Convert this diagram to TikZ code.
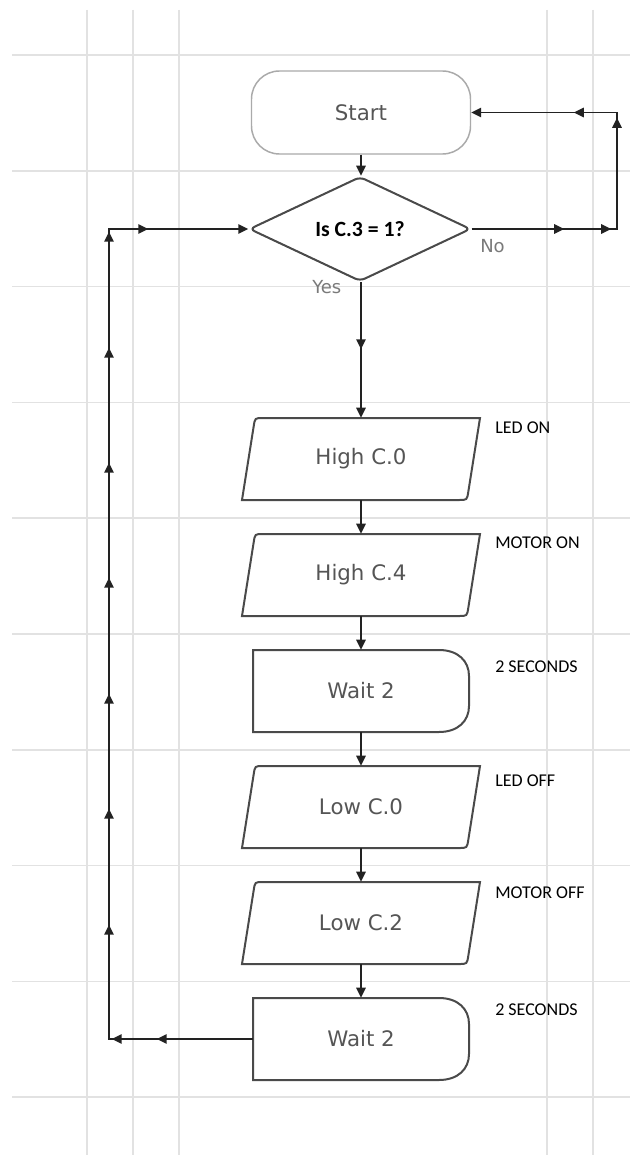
\documentclass[tikz,border=0pt]{standalone}
\usepackage{fontspec}
\setmainfont{DejaVu Sans}
\newfontfamily\carlito{Carlito}
\usetikzlibrary{arrows.meta,decorations.markings,shapes.geometric}
\definecolor{gridc}{HTML}{E2E2E2}
\definecolor{linec}{HTML}{222222}
\definecolor{shapec}{HTML}{4A4A4A}
\definecolor{textc}{HTML}{555555}
\definecolor{startc}{HTML}{AAAAAA}
\definecolor{yesno}{HTML}{7A7A7A}
\newcommand\flowtip{\arrow{Triangle[length=7.5pt,width=7pt]}}
\newcommand\ioshape[3]{%
  \begin{scope}[shift={(361,#2)}]
    \draw[boxline] (-119,41) -- (-107.25,-33.1) .. controls (-106,-41) .. (-98,-41)
      -- (119,-41) -- (107.25,33.1) .. controls (106,41) .. (98,41) -- cycle;
    \node[boxtext] (#1) at (0,0) {#3};
  \end{scope}}
\newcommand\waitshape[3]{%
  \begin{scope}[shift={(361,#2)}]
    \draw[boxline] (-108,-41) -- (78,-41) .. controls (97,-41) and (108,-30) .. (108,-15)
      -- (108,15) .. controls (108,30) and (97,41) .. (78,41) -- (-108,41) -- cycle;
    \node[boxtext, minimum width=162pt] (#1) at (0,0) {#3};
  \end{scope}}
\tikzset{
  gridline/.style={draw=gridc, line width=1.3pt},
  conn/.style={draw=linec, line width=1.4pt, -{Triangle[length=7.5pt,width=7pt]}},
  boxline/.style={draw=shapec, line width=1.5pt, fill=white},
  boxtext/.style={text=textc, font=\fontsize{16pt}{19pt}\selectfont, inner sep=0pt,
    minimum width=150pt, minimum height=61.5pt},
  note/.style={font=\carlito\fontsize{13.5pt}{16pt}\selectfont, anchor=base west, inner sep=0pt},
  yn/.style={text=yesno, font=\fontsize{13.5pt}{16pt}\selectfont, anchor=base west, inner sep=0pt},
  marks/.style={postaction={decorate}, decoration={markings, #1}},
}
\begin{document}
\begin{tikzpicture}[x=0.75pt,y=-0.75pt]
\useasboundingbox (0,0) rectangle (630,1155);
\fill[white] (0,0) rectangle (630,1155);
% grid
\foreach \y in {55,170.8,286.6,402.4,518.2,634,749.8,865.6,981.4,1097.2}
  \draw[gridline] (12,\y) -- (630,\y);
\foreach \x in {87,133,179,547,593}
  \draw[gridline] (\x,10) -- (\x,1155);
% nodes
\node[draw=startc, line width=1.1pt, fill=white, rounded corners=21pt,
      minimum width=164.25pt, minimum height=62.25pt, inner sep=0pt,
      text=textc, font=\fontsize{16pt}{19pt}\selectfont] (start) at (361,112.5) {Start};
\node[diamond, draw=shapec, line width=1.5pt, fill=white, rounded corners=4pt,
      minimum width=166pt, minimum height=67pt, inner sep=0pt,
      font=\carlito\bfseries\fontsize{16.3pt}{19pt}\selectfont] (dec) at (360,229) {Is C.3 = 1?};
\ioshape{h0}{459}{High C.0}
\ioshape{h4}{575}{High C.4}
\waitshape{w1}{691}{Wait 2}
\ioshape{l0}{807}{Low C.0}
\ioshape{l2}{923}{Low C.2}
\waitshape{w2}{1039}{Wait 2}
% labels
\node[yn] (no) at (480,253) {No};
\node[yn] (yes) at (312,294) {Yes};
\node[note] (n1) at (495,433) {LED ON};
\node[note] (n2) at (495,548) {MOTOR ON};
\node[note] (n3) at (495,672) {2 SECONDS};
\node[note] (n4) at (495,786) {LED OFF};
\node[note] (n5) at (495,898) {MOTOR OFF};
\node[note] (n6) at (495,1015) {2 SECONDS};
% helper coordinates for loops
\coordinate (rx) at (617,170);
\coordinate (lx) at (109,600);
% connectors
\draw[conn] (start.south) -- (start.south |- dec.north);
\draw[conn, marks={mark=at position 50.25pt with {\flowtip}}] (h0.north |- dec.south) -- (h0.north);
\draw[conn] (h0.south) -- (h4.north);
\draw[conn] (h4.south) -- (w1.north);
\draw[conn] (w1.south) -- (l0.north);
\draw[conn] (l0.south) -- (l2.north);
\draw[conn] (l2.south) -- (w2.north);
\draw[conn, marks={mark=at position 69.4pt with {\flowtip},
                   mark=at position 104.6pt with {\flowtip},
                   mark=at position 192.4pt with {\flowtip},
                   mark=at position 228.75pt with {\flowtip}}]
  (dec.east) -| (rx) |- (start.east);
\draw[conn, marks={mark=at position 72pt with {\flowtip},
                   mark=at position 105.75pt with {\flowtip},
                   mark=at position 193.5pt with {\flowtip},
                   mark=at position 280.5pt with {\flowtip},
                   mark=at position 366.75pt with {\flowtip},
                   mark=at position 453.75pt with {\flowtip},
                   mark=at position 540pt with {\flowtip},
                   mark=at position 626.25pt with {\flowtip},
                   mark=at position 713.25pt with {\flowtip},
                   mark=at position 744.75pt with {\flowtip}}]
  (w2.west) -| (lx) |- (dec.west);
\end{tikzpicture}
\end{document}
